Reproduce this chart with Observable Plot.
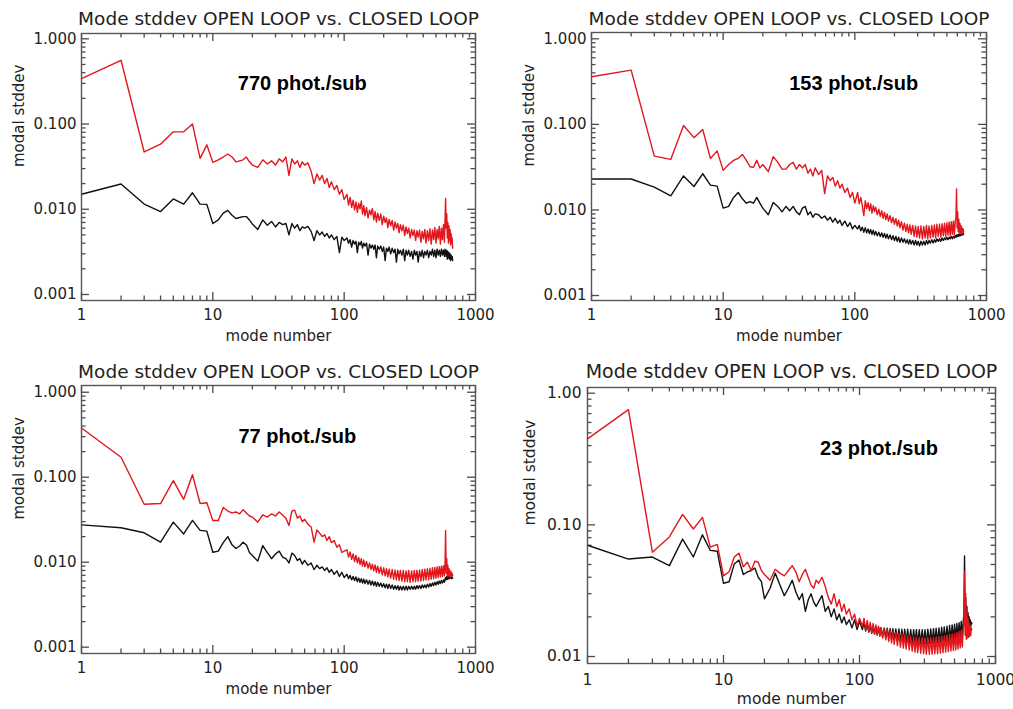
<!DOCTYPE html>
<html>
<head>
<meta charset="utf-8">
<script src="https://cdn.jsdelivr.net/npm/d3@7"></script>
<script src="https://cdn.jsdelivr.net/npm/@observablehq/plot@0.6"></script>
<style>
  html, body { margin: 0; padding: 0; background: #fff; }
  #root { position: relative; width: 1013px; height: 709px; overflow: hidden; background: #fff; }
  .panel { position: absolute; }
</style>
</head>
<body>
<div id="root"></div>
<script>
const modes = [
  1,2,3,4,5,6,7,8,9,10,11,12,13,14,15,16,17,18,19,20,
  22,24,26,28,30,32,34,36,38,40,42,44,46,48,50,
  53,56,59,62,65,68,71,74,77,80,
  84,88,92,96,100,
  105,108,111,114,117,120,123,126,129,132,135,138,141,
  144,148,152,156,160,164,168,172,176,180,
  185,190,195,200,205,210,215,220,
  226,232,238,244,250,256,262,268,
  275,282,289,296,303,310,
  318,326,334,342,350,358,366,
  375,384,393,402,411,420,
  430,440,450,460,470,480,490,500,510,520,530,540,550,560,570,580,
  586,592,598,604,610,616,622,628,634,640,646,652,658,664,670
];
const open770 = [
  0.34,0.56,0.047,0.058,0.081,0.081,0.100,0.0395,0.057,0.0355,0.038,0.041,0.0445,0.041,0.036,0.037,0.038,0.041,0.036,0.033,
  0.031,0.038,0.034,0.037,0.033,0.039,0.036,0.041,0.025,0.039,0.034,0.037,0.031,0.036,0.033,
  0.035,0.028,0.020,0.026,0.022,0.025,0.020,0.023,0.018,0.021,
  0.017,0.019,0.015,0.017,0.013,
  0.0150,0.0112,0.0138,0.0105,0.0128,0.0098,0.0122,0.0092,0.0118,0.0101,0.0125,0.0088,0.0110,
  0.0084,0.0105,0.0079,0.0098,0.0086,0.0102,0.0075,0.0094,0.0071,0.0090,
  0.0074,0.0088,0.0066,0.0083,0.0070,0.0079,0.0061,0.0076,
  0.0064,0.0074,0.0057,0.0071,0.0060,0.0068,0.0053,0.0066,
  0.0056,0.0065,0.0049,0.0062,0.0052,0.0060,
  0.0046,0.0058,0.0049,0.0057,0.0043,0.0056,0.0047,
  0.0057,0.0041,0.0055,0.0045,0.0058,0.0040,
  0.0056,0.0043,0.0059,0.0039,0.0057,0.0044,0.0061,0.0040,0.0058,0.0045,0.0063,0.0039,0.0060,0.0044,0.0066,0.0041,
  0.0072,0.0134,0.0060,0.0088,0.0046,0.0070,0.0040,0.0064,0.0043,0.0058,0.0038,0.0052,0.0040,0.0046,0.0035
];
const closed770 = [
  0.015,0.0198,0.0115,0.0094,0.0132,0.0115,0.0156,0.0115,0.0114,0.0068,0.0075,0.0090,0.0097,0.0085,0.0078,0.0080,0.0082,0.0082,0.0075,0.0067,
  0.0058,0.0075,0.0065,0.0072,0.0062,0.0070,0.0066,0.0068,0.0050,0.0068,0.0060,0.0066,0.0056,0.0062,0.0060,
  0.0063,0.0055,0.0043,0.0056,0.0050,0.0054,0.0048,0.0052,0.0046,0.0050,
  0.0044,0.0048,0.0031,0.0047,0.0043,
  0.0046,0.0040,0.0044,0.0036,0.0043,0.0039,0.0042,0.0031,0.0041,0.0038,0.0042,0.0035,0.0040,
  0.0037,0.0040,0.0029,0.0039,0.0035,0.0038,0.0034,0.0038,0.0027,0.0037,
  0.0034,0.0037,0.0032,0.0036,0.0025,0.0035,0.0032,0.0036,
  0.0030,0.0035,0.0031,0.0034,0.0024,0.0034,0.0030,0.0033,
  0.0029,0.0034,0.0025,0.0033,0.0029,0.0033,
  0.0028,0.0032,0.0026,0.0033,0.0029,0.0032,0.0024,
  0.0032,0.0028,0.0033,0.0027,0.0032,0.0029,
  0.0033,0.0027,0.0032,0.0029,0.0034,0.0028,0.0033,0.0027,0.0034,0.0029,0.0033,0.0028,0.0034,0.0029,0.0033,0.0028,
  0.0034,0.0032,0.0028,0.0033,0.0026,0.0032,0.0027,0.0031,0.0026,0.0030,0.0025,0.0029,0.0026,0.0028,0.0025
];
const open153 = [
  0.36,0.43,0.0425,0.039,0.097,0.070,0.087,0.040,0.049,0.029,0.034,0.038,0.040,0.0445,0.038,0.032,0.0316,0.038,0.031,0.034,
  0.028,0.042,0.036,0.030,0.030,0.034,0.036,0.030,0.034,0.031,0.034,0.027,0.030,0.025,0.031,
  0.026,0.029,0.0155,0.025,0.022,0.024,0.019,0.022,0.018,0.020,
  0.016,0.018,0.014,0.016,0.012,
  0.0160,0.0118,0.0140,0.0112,0.0086,0.0128,0.0104,0.0122,0.0098,0.0118,0.0092,0.0112,0.0096,
  0.0108,0.0088,0.0102,0.0084,0.0098,0.0080,0.0094,0.0077,0.0090,0.0074,
  0.0086,0.0071,0.0082,0.0068,0.0079,0.0065,0.0076,0.0062,
  0.0073,0.0058,0.0070,0.0056,0.0068,0.0054,0.0067,0.0052,
  0.0066,0.0049,0.0065,0.0048,0.0064,0.0047,
  0.0065,0.0046,0.0064,0.0047,0.0066,0.0046,0.0065,
  0.0047,0.0066,0.0048,0.0067,0.0047,0.0068,
  0.0049,0.0068,0.0048,0.0069,0.0050,0.0070,0.0049,0.0071,0.0051,0.0072,0.0050,0.0073,0.0052,0.0074,0.0051,0.0076,
  0.0080,0.0176,0.0062,0.0095,0.0056,0.0078,0.0054,0.0070,0.0053,0.0066,0.0052,0.0062,0.0053,0.0060,0.0056
];
const closed153 = [
  0.023,0.023,0.0185,0.0146,0.025,0.0188,0.0265,0.0195,0.019,0.0105,0.011,0.014,0.016,0.0135,0.012,0.0125,0.012,0.014,0.012,0.0105,
  0.0088,0.0122,0.011,0.0095,0.011,0.0098,0.011,0.0095,0.0088,0.0105,0.011,0.0088,0.0095,0.0082,0.009,
  0.0088,0.0080,0.0085,0.0076,0.0082,0.0072,0.0080,0.0070,0.0076,0.0066,
  0.0074,0.0064,0.0071,0.0060,0.0066,
  0.0060,0.0066,0.0057,0.0063,0.0055,0.0062,0.0054,0.0060,0.0053,0.0059,0.0052,0.0058,0.0051,
  0.0056,0.0050,0.0055,0.0049,0.0054,0.0048,0.0053,0.0047,0.0052,0.0046,
  0.0051,0.0045,0.0050,0.0044,0.0049,0.0043,0.0048,0.0042,
  0.0047,0.0042,0.0046,0.0041,0.0045,0.0040,0.0045,0.0040,
  0.0044,0.0039,0.0044,0.0039,0.0043,0.0038,
  0.0043,0.0039,0.0043,0.0039,0.0044,0.0040,0.0044,
  0.0041,0.0045,0.0041,0.0045,0.0042,0.0046,
  0.0043,0.0046,0.0043,0.0047,0.0044,0.0047,0.0045,0.0048,0.0045,0.0048,0.0046,0.0049,0.0046,0.0049,0.0047,0.0050,
  0.0048,0.0051,0.0049,0.0051,0.0049,0.0052,0.0050,0.0052,0.0050,0.0053,0.0051,0.0053,0.0051,0.0054,0.0052
];
const open77 = [
  0.38,0.172,0.048,0.049,0.091,0.055,0.107,0.049,0.050,0.031,0.031,0.044,0.040,0.038,0.039,0.037,0.0415,0.038,0.035,0.034,
  0.0296,0.036,0.034,0.037,0.035,0.039,0.036,0.033,0.027,0.040,0.041,0.033,0.035,0.030,0.032,
  0.028,0.026,0.0172,0.024,0.022,0.020,0.021,0.018,0.020,0.017,
  0.018,0.015,0.016,0.013,0.0135,
  0.0140,0.0115,0.0132,0.0108,0.0125,0.0102,0.0120,0.0098,0.0114,0.0094,0.0110,0.0090,0.0106,
  0.0088,0.0102,0.0085,0.0098,0.0082,0.0095,0.0079,0.0093,0.0076,0.0090,
  0.0074,0.0088,0.0071,0.0086,0.0069,0.0084,0.0067,0.0083,
  0.0065,0.0082,0.0063,0.0081,0.0062,0.0080,0.0061,0.0080,
  0.0060,0.0080,0.0059,0.0079,0.0059,0.0080,
  0.0058,0.0079,0.0059,0.0080,0.0059,0.0080,0.0060,
  0.0081,0.0060,0.0082,0.0061,0.0083,0.0062,
  0.0084,0.0062,0.0085,0.0063,0.0086,0.0064,0.0087,0.0065,0.0088,0.0066,0.0089,0.0067,0.0090,0.0068,0.0091,0.0069,
  0.0094,0.0236,0.0074,0.0110,0.0070,0.0092,0.0069,0.0084,0.0068,0.0080,0.0067,0.0077,0.0068,0.0074,0.0070
];
const closed77 = [
  0.0275,0.0254,0.0222,0.0172,0.0296,0.0215,0.031,0.0237,0.0232,0.0131,0.0135,0.017,0.020,0.016,0.0145,0.0155,0.0172,0.016,0.013,0.012,
  0.0103,0.0157,0.013,0.011,0.0125,0.0135,0.0115,0.011,0.0098,0.0128,0.012,0.0105,0.011,0.0095,0.0105,
  0.0092,0.0098,0.0082,0.0092,0.0084,0.0088,0.0080,0.0086,0.0076,0.0082,
  0.0072,0.0079,0.0068,0.0076,0.0066,
  0.0072,0.0064,0.0070,0.0062,0.0068,0.0061,0.0067,0.0059,0.0065,0.0058,0.0064,0.0057,0.0063,
  0.0056,0.0062,0.0055,0.0061,0.0054,0.0060,0.0053,0.0059,0.0052,0.0058,
  0.0052,0.0057,0.0051,0.0056,0.0050,0.0055,0.0049,0.0055,
  0.0049,0.0054,0.0048,0.0053,0.0048,0.0053,0.0047,0.0052,
  0.0047,0.0052,0.0047,0.0052,0.0047,0.0052,
  0.0048,0.0052,0.0048,0.0052,0.0048,0.0053,0.0049,
  0.0053,0.0049,0.0054,0.0050,0.0054,0.0050,
  0.0055,0.0051,0.0056,0.0052,0.0057,0.0053,0.0058,0.0054,0.0059,0.0055,0.0060,0.0056,0.0061,0.0057,0.0062,0.0058,
  0.0063,0.0066,0.0062,0.0068,0.0063,0.0067,0.0064,0.0068,0.0064,0.0067,0.0065,0.0068,0.0064,0.0067,0.0065
];
const open23 = [
  0.45,0.75,0.062,0.081,0.12,0.093,0.114,0.0677,0.071,0.041,0.044,0.057,0.061,0.048,0.052,0.045,0.053,0.052,0.045,0.042,
  0.038,0.046,0.043,0.041,0.045,0.049,0.044,0.037,0.042,0.046,0.040,0.035,0.033,0.038,0.036,
  0.040,0.034,0.028,0.025,0.030,0.024,0.027,0.022,0.025,0.021,
  0.023,0.019,0.021,0.017,0.0195,
  0.0170,0.0195,0.0160,0.0188,0.0156,0.0182,0.0152,0.0178,0.0148,0.0174,0.0145,0.0170,0.0142,
  0.0166,0.0138,0.0163,0.0134,0.0160,0.0130,0.0157,0.0127,0.0155,0.0124,
  0.0152,0.0121,0.0150,0.0118,0.0148,0.0116,0.0146,0.0114,
  0.0144,0.0112,0.0142,0.0110,0.0141,0.0108,0.0140,0.0107,
  0.0139,0.0106,0.0139,0.0105,0.0138,0.0104,
  0.0138,0.0104,0.0139,0.0104,0.0139,0.0105,0.0140,
  0.0105,0.0141,0.0106,0.0142,0.0107,0.0143,
  0.0108,0.0145,0.0109,0.0147,0.0110,0.0148,0.0111,0.0150,0.0112,0.0152,0.0114,0.0155,0.0116,0.0158,0.0118,0.0165,
  0.0180,0.0440,0.0145,0.0300,0.0135,0.0220,0.0138,0.0195,0.0140,0.0180,0.0142,0.0172,0.0145,0.0165,0.0160
];
const closed23 = [
  0.070,0.055,0.057,0.049,0.078,0.057,0.084,0.064,0.063,0.036,0.037,0.0505,0.054,0.042,0.044,0.045,0.047,0.040,0.037,0.0274,
  0.033,0.043,0.035,0.029,0.033,0.038,0.031,0.027,0.030,0.022,0.027,0.030,0.026,0.024,0.026,
  0.029,0.022,0.024,0.020,0.023,0.019,0.021,0.018,0.020,0.0175,
  0.019,0.0165,0.019,0.016,0.0185,
  0.0160,0.0180,0.0156,0.0176,0.0153,0.0172,0.0150,0.0170,0.0148,0.0168,0.0146,0.0167,0.0144,
  0.0165,0.0142,0.0165,0.0140,0.0164,0.0138,0.0163,0.0136,0.0163,0.0134,
  0.0162,0.0132,0.0162,0.0130,0.0161,0.0129,0.0161,0.0128,
  0.0161,0.0127,0.0160,0.0126,0.0160,0.0126,0.0160,0.0125,
  0.0160,0.0125,0.0160,0.0124,0.0160,0.0124,
  0.0161,0.0125,0.0162,0.0125,0.0163,0.0126,0.0164,
  0.0127,0.0165,0.0128,0.0167,0.0129,0.0168,
  0.0130,0.0170,0.0131,0.0172,0.0132,0.0174,0.0133,0.0176,0.0135,0.0178,0.0137,0.0181,0.0139,0.0185,0.0142,0.0190,
  0.0210,0.0580,0.0180,0.0280,0.0165,0.0240,0.0160,0.0215,0.0162,0.0200,0.0165,0.0190,0.0168,0.0182,0.0178
];

const xMajor = [1, 10, 100, 1000];
const xMajorLabels = ["1", "10", "100", "1000"];
const xMinor = [2,3,4,5,6,7,8,9,20,30,40,50,60,70,80,90,200,300,400,500,600,700,800,900];
const yMajor3 = [0.001, 0.01, 0.1, 1];
const yMajor3Labels = ["0.001", "0.010", "0.100", "1.000"];
const yMinor3 = [0.002,0.003,0.004,0.005,0.006,0.007,0.008,0.009,0.02,0.03,0.04,0.05,0.06,0.07,0.08,0.09,0.2,0.3,0.4,0.5,0.6,0.7,0.8,0.9];
const yMajor2 = [0.01, 0.1, 1];
const yMajor2Labels = ["0.01", "0.10", "1.00"];
const yMinor2 = [0.02,0.03,0.04,0.05,0.06,0.07,0.08,0.09,0.2,0.3,0.4,0.5,0.6,0.7,0.8,0.9];

const titleText = "Mode stddev OPEN LOOP vs. CLOSED LOOP";
const xLabelText = "mode number";
const yLabelText = "modal stddev";
const notes = ["770 phot./sub", "153 phot./sub", "77 phot./sub", "23 phot./sub"];
const noteModes = [48, 98, 44, 139];
const noteValues = [0.30, 0.30, 0.30, 0.378];

const RED = "#e3161c";
const AXIS = "#555";
const INK = "#222";
const TICK = "#4a4a4a";

const panels = [
  {left: 0, top: 0, width: 500, height: 350, mL: 81, mR: 25, mT: 33, mB: 50,
   yDomain: [0.00085, 1.154], yMajor: yMajor3, yLabels: yMajor3Labels, yMinor: yMinor3,
   open: open770, closed: closed770, fs: 15, tfs: 18.5, titleDy: -9, xPad: 9, yPad: 5, yLabDx: -58},
  {left: 500, top: 0, width: 513, height: 350, mL: 91, mR: 27, mT: 32, mB: 50,
   yDomain: [0.000875, 1.185], yMajor: yMajor3, yLabels: yMajor3Labels, yMinor: yMinor3,
   open: open153, closed: closed153, fs: 15, tfs: 18.5, titleDy: -8, xPad: 9, yPad: 5, yLabDx: -58},
  {left: 0, top: 350, width: 500, height: 359, mL: 81, mR: 25, mT: 35, mB: 56,
   yDomain: [0.000843, 1.2], yMajor: yMajor3, yLabels: yMajor3Labels, yMinor: yMinor3,
   open: open77, closed: closed77, fs: 15, tfs: 18.5, titleDy: -8, xPad: 9, yPad: 5, yLabDx: -58},
  {left: 500, top: 350, width: 513, height: 359, mL: 87, mR: 18, mT: 37, mB: 46,
   yDomain: [0.00885, 1.105], yMajor: yMajor2, yLabels: yMajor2Labels, yMinor: yMinor2,
   open: open23, closed: closed23, fs: 15.5, tfs: 19, titleDy: -10, xPad: 10, yPad: 6, yLabDx: -53}
];

// inward IDL-style ticks on all four sides of the frame
function frameTicks(p) {
  const W = p.width - p.mL - p.mR;
  const H = p.height - p.mT - p.mB;
  const st = {stroke: TICK, strokeWidth: 1.3};
  const out = [];
  for (const [vals, len] of [[xMajor, 8], [xMinor, 4.5]]) {
    out.push(Plot.ruleX(vals, {x: d => d, insetTop: H - len, ...st}));
    out.push(Plot.ruleX(vals, {x: d => d, insetBottom: H - len, ...st}));
  }
  for (const [vals, len] of [[p.yMajor, 8], [p.yMinor, 4.5]]) {
    out.push(Plot.ruleY(vals, {y: d => d, insetRight: W - len, ...st}));
    out.push(Plot.ruleY(vals, {y: d => d, insetLeft: W - len, ...st}));
  }
  return out;
}

function buildPanel(p, k) {
  const toRows = s => modes.map((m, i) => ({mode: m, value: s[i]}));
  const xLab = new Map(xMajor.map((v, i) => [v, xMajorLabels[i]]));
  const yLab = new Map(p.yMajor.map((v, i) => [v, p.yLabels[i]]));
  return Plot.plot({
    width: p.width,
    height: p.height,
    marginLeft: p.mL, marginRight: p.mR, marginTop: p.mT, marginBottom: p.mB,
    x: {type: "log", domain: [1, 1000]},
    y: {type: "log", domain: p.yDomain},
    style: {fontFamily: "'DejaVu Sans', sans-serif", fontSize: p.fs + "px", color: INK, background: "#fff"},
    marks: [
      ...frameTicks(p),
      Plot.axisX({anchor: "bottom", ticks: xMajor, tickSize: 0, tickPadding: p.xPad, tickFormat: d => xLab.get(d), label: null, fill: INK}),
      Plot.axisY({anchor: "left", ticks: p.yMajor, tickSize: 0, tickPadding: p.yPad, tickFormat: d => yLab.get(d), label: null, fill: INK}),
      Plot.line(toRows(p.closed), {x: "mode", y: "value", stroke: "#111", strokeWidth: 1.4}),
      Plot.line(toRows(p.open), {x: "mode", y: "value", stroke: RED, strokeWidth: 1.4}),
      Plot.frame({stroke: AXIS, strokeWidth: 1.4, fill: "none"}),
      Plot.text([titleText], {text: d => d, frameAnchor: "top", dy: p.titleDy, lineAnchor: "bottom", fontSize: p.tfs, fill: INK}),
      Plot.text([xLabelText], {text: d => d, frameAnchor: "bottom", dy: 40, lineAnchor: "bottom", fill: INK}),
      Plot.text([yLabelText], {text: d => d, frameAnchor: "left", dx: p.yLabDx, rotate: -90, lineAnchor: "bottom", fill: INK}),
      Plot.text([notes[k]], {text: d => d, x: () => noteModes[k], y: () => noteValues[k],
        fontFamily: "'Liberation Sans', Arial, sans-serif", fontWeight: "bold", fontSize: 20, fill: "#000"})
    ]
  });
}

const root = document.getElementById("root");
panels.forEach((p, k) => {
  const div = document.createElement("div");
  div.className = "panel";
  div.style.left = p.left + "px";
  div.style.top = p.top + "px";
  div.style.width = p.width + "px";
  div.style.height = p.height + "px";
  div.appendChild(buildPanel(p, k));
  root.appendChild(div);
});
</script>
</body>
</html>
